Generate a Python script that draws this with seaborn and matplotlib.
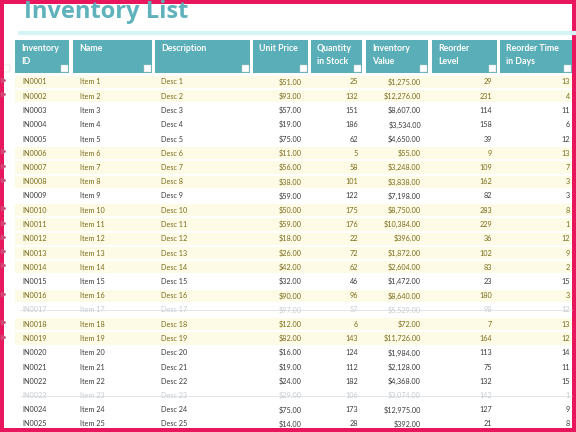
import matplotlib
matplotlib.use("Agg")
import matplotlib.pyplot as plt
import seaborn as sns
import numpy as np

sns.set_style("white")
plt.rcParams['font.family'] = ['Lato', 'DejaVu Sans']

headers = ["Inventory\nID", "Name", "Description", "Unit Price", "Quantity\nin Stock",
           "Inventory\nValue", "Reorder\nLevel", "Reorder Time\nin Days"]
ids = [f"IN{i:04d}" for i in range(1, 26)]
names = [f"Item {i}" for i in range(1, 26)]
descs = [f"Desc {i}" for i in range(1, 26)]
unit_price = [51, 93, 57, 19, 75, 11, 56, 38, 59, 50, 59, 18, 26, 42, 32, 90, 97, 12, 82, 16, 19, 24, 29, 75, 14]
qty = [25, 132, 151, 186, 62, 5, 58, 101, 122, 175, 176, 22, 72, 62, 46, 96, 57, 6, 143, 124, 112, 182, 106, 173, 28]
inv_value = [1275, 12276, 8607, 3534, 4650, 55, 3248, 3838, 7198, 8750, 10384, 396, 1872, 2604, 1472, 8640,
             5529, 72, 11726, 1984, 2128, 4368, 3074, 12975, 392]
reorder_level = [29, 231, 114, 158, 39, 9, 109, 162, 82, 283, 229, 36, 102, 83, 23, 180, 98, 7, 164, 113, 75, 132, 142, 127, 21]
reorder_days = [13, 4, 11, 6, 12, 13, 7, 3, 3, 8, 1, 12, 9, 2, 15, 3, 12, 13, 12, 14, 11, 15, 1, 9, 8]
discontinued = [17, 23]

W, H = 576, 432
fig = plt.figure(figsize=(5.76, 4.32), dpi=100)
ax = fig.add_axes([0, 0, 1, 1])
ax.set_xlim(0, W); ax.set_ylim(H, 0); ax.axis("off")
fig.patch.set_facecolor("white")

teal = "#5aaeb7"
# title
ax.text(24, 12, "Inventory List", color="#5fb2bb", fontsize=17, fontweight="bold",
        va="center", ha="left", family=["Open Sans", "DejaVu Sans"])
ax.plot([18, 576], [33, 33], color="#d6f3f5", lw=3, solid_capstyle="butt")

# header cells
cols = [(15, 69), (73, 152), (155, 250), (253, 308), (311, 362), (366, 428), (432, 497), (500, 572)]
for (x0, x1), h in zip(cols, headers):
    ax.add_patch(plt.Rectangle((x0, 40), x1 - x0, 33, color=teal, lw=0))
    ax.text(x0 + 6, 44, h, color="white", fontsize=6.3, fontweight="bold", va="top", ha="left",
            linespacing=1.55)
    ax.add_patch(plt.Rectangle((x1 - 8, 65), 7, 7, facecolor="white", edgecolor="#cccccc", lw=0.3))
ax.add_patch(plt.Rectangle((3, 65), 7, 7, facecolor="white", edgecolor="#cccccc", lw=0.3))

# rows
y0, dy = 82, 14.25
xs = [22, 80, 161, 302, 358, 421, 492, 570]
has = ["left", "left", "left", "right", "right", "right", "right", "right"]
for i in range(25):
    y = y0 + i * dy
    n = i + 1
    flagged = qty[i] <= reorder_level[i] and n not in discontinued
    if n in discontinued:
        col = "#c8ccd0"
    elif flagged:
        col = "#7a6a1c"
        ax.add_patch(plt.Rectangle((15, y - dy / 2 + 1), 561, dy - 2, color="#fdfbe6", lw=0))
        ax.plot([3], [y - 2], marker=">", color="#d24a78", markersize=3)
    else:
        col = "#3a3a3a"
    vals = [ids[i], names[i], descs[i], f"${unit_price[i]:,.2f}", str(qty[i]),
            f"${inv_value[i]:,.2f}", str(reorder_level[i]), str(reorder_days[i])]
    for x, ha, v in zip(xs, has, vals):
        ax.text(x, y, v, color=col, fontsize=5.2, va="center", ha=ha)
    if n in discontinued:
        ax.plot([20, 572], [y, y], color="#d6dadd", lw=0.5)

# pink border
for sl in [((0, 0), W, 4), ((0, H - 4), W, 4), ((0, 0), 4, H), ((W - 4, 0), 4, H)]:
    ax.add_patch(plt.Rectangle(*sl, color="#e8175d", lw=0))

fig.savefig("out.png", dpi=100)
